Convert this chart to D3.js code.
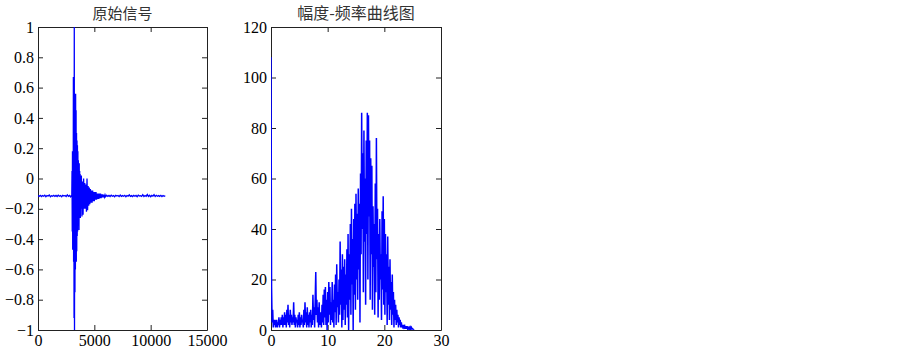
<!DOCTYPE html>
<html>
<head>
<meta charset="utf-8">
<script src="https://cdn.jsdelivr.net/npm/d3@7"></script>
<style>
  body { margin: 0; background: #fff; }
  .axis text { font-family: "Liberation Serif", "Times New Roman", serif; font-size: 16px; fill: #000; }
  .axis path, .axis line { stroke: #222; }
  .chart-title { font-family: "Noto Sans CJK SC", sans-serif; fill: #333; text-anchor: middle; }
</style>
</head>
<body>
<div id="chart"></div>
<script>
// ---- data ----
// raw signal: [sample index, amplitude]
const signalPre = [
  [0,-0.113],[100,-0.118],[200,-0.111],[300,-0.119],[400,-0.112],[500,-0.117],[600,-0.110],[700,-0.120],
  [800,-0.113],[900,-0.116],[1000,-0.109],[1100,-0.121],[1200,-0.114],[1300,-0.117],[1400,-0.111],[1500,-0.118],
  [1600,-0.112],[1700,-0.119],[1800,-0.110],[1900,-0.117],[2000,-0.113],[2100,-0.120],[2200,-0.111],[2300,-0.116],
  [2400,-0.112],[2500,-0.119],[2600,-0.108],[2700,-0.118],[2800,-0.112],[2900,-0.121],[3000,-0.110]
];
const signalBurst = [
  [3020,0.05],[3040,-0.35],[3060,0.18],[3080,-0.47],[3100,0.15],[3120,-0.46],[3140,0.67],[3160,-0.55],
  [3180,0.35],[3200,-0.92],[3220,1.0],[3240,-1.0],[3260,0.5],[3280,-0.75],[3300,0.52],[3320,-0.6],
  [3340,0.56],[3360,-0.5],[3380,0.45],[3400,-0.55],[3420,0.3],[3440,-0.48],[3460,0.25],[3480,-0.38],
  [3500,0.22],[3520,-0.35],[3540,0.18],[3560,-0.3],[3580,0.12],[3600,-0.28],[3620,0.08],[3640,-0.34],
  [3660,0.1],[3680,-0.25],[3700,0.05],[3720,-0.22],[3740,0.03],[3760,-0.26],[3780,0.0],[3800,-0.2]
];
const signalDecay = [
  [3850,0.02],[3900,-0.25],[3950,-0.02],[4000,-0.24],[4050,0.0],[4100,-0.2],[4150,-0.03],[4200,-0.2],
  [4250,-0.04],[4300,-0.22],[4350,0.0],[4400,-0.21],[4450,-0.05],[4500,-0.18],[4550,-0.06],[4600,-0.17],
  [4650,-0.07],[4700,-0.16],[4750,-0.08],[4800,-0.16],[4850,-0.08],[4900,-0.15],[4950,-0.09],[5000,-0.15],
  [5050,-0.09],[5100,-0.14],[5150,-0.09],[5200,-0.14],[5250,-0.1],[5300,-0.135],[5350,-0.1],[5400,-0.135],
  [5450,-0.1],[5500,-0.13],[5550,-0.1],[5600,-0.13],[5650,-0.105],[5700,-0.125],[5750,-0.105],[5800,-0.125],
  [5850,-0.108],[5900,-0.122],[5950,-0.108],[6000,-0.12]
];
const signalTail = [
  [6100,-0.111],[6200,-0.118],[6300,-0.112],[6400,-0.119],[6500,-0.110],[6600,-0.117],[6700,-0.113],[6800,-0.120],
  [6900,-0.111],[7000,-0.116],[7100,-0.112],[7200,-0.119],[7300,-0.109],[7400,-0.118],[7500,-0.113],[7600,-0.117],
  [7700,-0.111],[7800,-0.120],[7900,-0.112],[8000,-0.116],[8100,-0.108],[8200,-0.118],[8300,-0.113],[8400,-0.119],
  [8500,-0.111],[8600,-0.117],[8700,-0.112],[8800,-0.120],[8900,-0.110],[9000,-0.116],[9100,-0.113],[9200,-0.118],
  [9300,-0.107],[9400,-0.119],[9500,-0.112],[9600,-0.117],[9700,-0.106],[9800,-0.118],[9900,-0.111],[10000,-0.120],
  [10100,-0.112],[10200,-0.117],[10300,-0.107],[10400,-0.119],[10500,-0.111],[10600,-0.117],[10700,-0.113],[10800,-0.118],
  [10900,-0.111],[11000,-0.119],[11100,-0.112],[11200,-0.117],[11300,-0.114]
];

// amplitude spectrum, one value every 0.1 (frequency starts at 0)
const specStep = 0.1;
const spectrum = [
  108, 17, 3, 8, 1, 4, 2, 4, 1, 3,
  4, 1, 3, 2, 5, 1, 4, 2, 5, 2,
  6, 1, 5, 2, 7, 2, 6, 1, 8, 3,
  10, 2, 6, 1, 8, 3, 6, 2, 5, 3,
  11, 2, 6, 1, 5, 3, 4, 1, 6, 2,
  7, 1, 5, 2, 6, 3, 4, 1, 8, 2,
  11, 3, 7, 1, 9, 2, 6, 1, 7, 3,
  8, 1, 6, 2, 14, 4, 9, 1, 12, 23,
  6, 12, 3, 9, 1, 11, 2, 7, 4, 1,
  10, 3, 14, 2, 16, 5, 17, 2, 12, 0,
  15, 3, 19, 6, 17, 2, 11, 4, 19, 3,
  12, 1, 18, 7, 22, 2, 26, 9, 15, 3,
  20, 6, 35, 10, 24, 1, 30, 4, 25, 8,
  28, 2, 22, 10, 32, 5, 38, 0, 30, 12,
  42, 6, 48, 18, 36, 0, 44, 14, 50, 8,
  54, 20, 46, 12, 56, 24, 50, 3, 62, 30,
  86, 40, 70, 15, 79, 35, 60, 10, 75, 38,
  86, 20, 85, 45, 75, 12, 68, 30, 65, 8,
  49, 25, 42, 6, 58, 15, 76, 28, 48, 5,
  38, 12, 44, 20, 30, 4, 47, 16, 53, 10,
  44, 6, 38, 15, 30, 2, 37, 10, 25, 4,
  28, 8, 19, 2, 22, 6, 15, 1, 12, 4,
  10, 2, 8, 3, 6, 1, 5, 2, 4, 1,
  3, 1, 2, 0.5, 2, 1, 1.5, 0.5, 1.5, 0.5,
  1.5, 0.5, 1, 0.5, 1, 0.3, 1, 0.3, 1, 0.5,
  0.5, 0.2, 0, 0
];

const leftTitle = '原始信号';
const rightTitle = '幅度-频率曲线图';
const leftXTicks = [0, 5000, 10000, 15000];
const leftYTicks = [-1, -0.8, -0.6, -0.4, -0.2, 0, 0.2, 0.4, 0.6, 0.8, 1];
const rightXTicks = [0, 10, 20, 30];
const rightYTicks = [0, 20, 40, 60, 80, 100, 120];

class LinePanel {
  constructor(_config, _data) {
    this.config = {
      svg: _config.svg,
      id: _config.id,
      left: _config.left,
      top: _config.top,
      width: _config.width,
      height: _config.height,
      xDomain: _config.xDomain,
      yDomain: _config.yDomain,
      xTicks: _config.xTicks,
      yTicks: _config.yTicks,
      title: _config.title,
      titleSize: _config.titleSize || 15,
      lineWidth: _config.lineWidth || 1
    };
    this.data = _data;
    this.initVis();
  }

  initVis() {
    let vis = this;
    const c = vis.config;

    vis.chart = c.svg.append('g')
      .attr('transform', `translate(${c.left},${c.top})`);

    vis.xScale = d3.scaleLinear().domain(c.xDomain).range([0, c.width]);
    vis.yScale = d3.scaleLinear().domain(c.yDomain).range([c.height, 0]);

    vis.chart.append('clipPath')
      .attr('id', `clip-${c.id}`)
      .append('rect')
      .attr('width', c.width)
      .attr('height', c.height);

    const fmt = d3.format('~g');

    // MATLAB style box: ticks inward on all four sides, labels only left and bottom
    vis.chart.append('g')
      .attr('class', 'axis x-axis')
      .attr('transform', `translate(0,${c.height})`)
      .call(d3.axisBottom(vis.xScale).tickValues(c.xTicks).tickFormat(fmt)
        .tickSizeInner(-5).tickSizeOuter(0).tickPadding(5));

    vis.chart.append('g')
      .attr('class', 'axis y-axis')
      .call(d3.axisLeft(vis.yScale).tickValues(c.yTicks).tickFormat(fmt)
        .tickSizeInner(-5).tickSizeOuter(0).tickPadding(4));

    vis.chart.append('g')
      .attr('class', 'axis')
      .call(d3.axisTop(vis.xScale).tickValues(c.xTicks).tickFormat('')
        .tickSizeInner(-5).tickSizeOuter(0));

    vis.chart.append('g')
      .attr('class', 'axis')
      .attr('transform', `translate(${c.width},0)`)
      .call(d3.axisRight(vis.yScale).tickValues(c.yTicks).tickFormat('')
        .tickSizeInner(-5).tickSizeOuter(0));

    vis.chart.append('text')
      .attr('class', 'chart-title')
      .attr('x', c.width / 2)
      .attr('y', -8)
      .style('font-size', `${c.titleSize}px`)
      .text(c.title);

    vis.renderVis();
  }

  renderVis() {
    let vis = this;
    const line = d3.line()
      .x(d => vis.xScale(d[0]))
      .y(d => vis.yScale(d[1]));

    vis.chart.append('path')
      .datum(vis.data)
      .attr('clip-path', `url(#clip-${vis.config.id})`)
      .attr('fill', 'none')
      .attr('stroke', '#0000ff')
      .attr('stroke-width', vis.config.lineWidth)
      .attr('d', line);
  }
}

const svg = d3.select('#chart').append('svg')
  .attr('width', 903)
  .attr('height', 354);

new LinePanel({
  svg: svg, id: 'signal',
  left: 38, top: 27, width: 169, height: 303,
  xDomain: [0, 15000], yDomain: [-1, 1],
  xTicks: leftXTicks, yTicks: leftYTicks,
  title: leftTitle, titleSize: 15, lineWidth: 1.3
}, signalPre.concat(signalBurst, signalDecay, signalTail));

new LinePanel({
  svg: svg, id: 'spectrum',
  left: 271, top: 27, width: 170, height: 303,
  xDomain: [0, 30], yDomain: [0, 120],
  xTicks: rightXTicks, yTicks: rightYTicks,
  title: rightTitle, titleSize: 16, lineWidth: 1.5
}, spectrum.map((v, i) => [i * specStep, v]));
</script>
</body>
</html>
